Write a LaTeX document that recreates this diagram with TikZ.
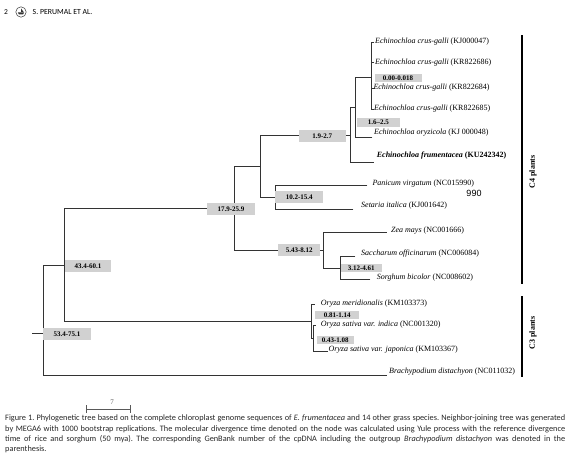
\documentclass[tikz,border=0pt]{standalone}
\usepackage{fontspec}
\setmainfont{Liberation Serif}
\newfontfamily\capfont{Carlito}
\newfontfamily\numfont{Liberation Sans}
\usetikzlibrary{arrows.meta,positioning}

\begin{document}
\begin{tikzpicture}[x=1pt,y=-1pt,line cap=rect,line join=miter,
  ink/.style={draw=black!80,line width=.9pt},
  group/.style={draw=black,line width=1.6pt},
  age/.style={fill=black!18,inner sep=0pt,font=\fontsize{7}{8}\selectfont\bfseries},
  leaf/.style={anchor=west,inner sep=0pt,font=\fontsize{8}{9}\selectfont},
  clade/.style={rotate=90,inner sep=0pt,font=\fontsize{8}{9}\selectfont\bfseries}]
\useasboundingbox (0,0) rectangle (570,462);

% Running head.
\node[font=\capfont\fontsize{7.5}{8}\selectfont] (page) at (6,12) {2};
\draw[black!80,line width=.5pt] (21,12) circle (5.2);
\fill[black!80] (17.8,12.4)--(24.2,12.4)--(23,14.4)--(19,14.4)--cycle;
\fill[black!80] (21,8.3)--(21,12)--(23.6,12)--cycle;
\node[font=\capfont\fontsize{7.8}{8}\selectfont,anchor=west,inner sep=0pt] (head) at (32.5,12) {S. PERUMAL ET AL.};

% Inner nodes and tips.
\coordinate (stub) at (32,333);
\coordinate (root) at (43,333);
\coordinate (n43) at (64.3,265.2);
\coordinate (n179) at (234.3,208.8);
\coordinate (n19) at (260.7,166.7);
\coordinate (n16) at (350.8,135.5);
\coordinate (n000) at (355,107.7);
\coordinate (ncg) at (371.7,77);
\coordinate (n102) at (275,197.5);
\coordinate (n543) at (323.3,250.5);
\coordinate (n312) at (340,268);
\coordinate (nory) at (311.7,321.7);
\coordinate (nsat) at (313.3,338);
\coordinate (toryz) at (372,137.3);
\coordinate (tfrum) at (373.3,162);
\coordinate (tpan) at (367,185);
\coordinate (tset) at (353,209.5);
\coordinate (tzea) at (386.7,232.7);
\coordinate (tsac) at (355,256.7);
\coordinate (tsor) at (370,279.3);
\coordinate (tmer) at (314.5,304);
\coordinate (tind) at (315.5,325);
\coordinate (tjap) at (327.7,351);
\coordinate (tbra) at (386.7,375.7);

% Branches.
\draw[ink] (stub)--(root);
\draw[ink] (root) |- (n43);
\draw[ink] (root) |- (tbra);
\draw[ink] (n43) |- (n179);
\draw[ink] (n43) |- (nory);
\draw[ink] (n179) |- (n19);
\draw[ink] (n179) |- (n543);
\draw[ink] (n19) |- (n16);
\draw[ink] (n19) |- (n102);
\draw[ink] (n16) |- (n000);
\draw[ink] (n16) |- (tfrum);
\draw[ink] (n000) |- (ncg);
\draw[ink] (n000) |- (toryz);
\draw[ink] (n102) |- (tpan);
\draw[ink] (n102) |- (tset);
\draw[ink] (n543) |- (tzea);
\draw[ink] (n543) |- (n312);
\draw[ink] (n312) |- (tsac);
\draw[ink] (n312) |- (tsor);
\draw[ink] (nory) |- (tmer);
\draw[ink] (nory) |- (nsat);
\draw[ink] (nsat) |- (tind);
\draw[ink] (nsat) |- (tjap);
\foreach \i/\y/\ty/\tx/\acc in {1/42.7/42/375/KJ000047,2/62.7/62.5/375/KR822686,
    3/88.3/88/373.3/KR822684,4/109.5/109/374/KR822685}{
  \coordinate (tcg\i) at (374,\y);
  \draw[ink] (ncg) |- (tcg\i);
  \node[leaf] (lcg\i) at (\tx,\ty) {\textit{Echinochloa crus-galli} (\acc)};
}

% Leaf labels.
\node[leaf] (loryz) at (374,132.7) {\textit{Echinochloa oryzicola} (KJ 000048)};
\node[leaf,font=\fontsize{8}{9}\selectfont\bfseries] (lfrum) at (376.7,155.5) {\textit{Echinochloa frumentacea} (KU242342)};
\node[leaf] (lpan) at (372.3,183.3) {\textit{Panicum virgatum} (NC015990)};
\node[leaf] (lset) at (361,205.7) {\textit{Setaria italica} (KJ001642)};
\node[leaf] (lzea) at (391,230.7) {\textit{Zea mays} (NC001666)};
\node[leaf] (lsac) at (361,253.3) {\textit{Saccharum officinarum} (NC006084)};
\node[leaf] (lsor) at (376.7,278) {\textit{Sorghum bicolor} (NC008602)};
\node[leaf] (lmer) at (320.7,303.3) {\textit{Oryza meridionalis} (KM103373)};
\node[leaf] (lind) at (320.7,325) {\textit{Oryza sativa var. indica} (NC001320)};
\node[leaf] (ljap) at (328.3,350) {\textit{Oryza sativa var. japonica} (KM103367)};
\node[leaf] (lbra) at (389,371.5) {\textit{Brachypodium distachyon} (NC011032)};
\node[font=\numfont\fontsize{9}{10}\selectfont] (num) at (474,193) {990};

% Divergence times (mya).
\node[age,minimum width=47,minimum height=8] (b000) at (398,78.3) {0.00-0.018};
\node[age,minimum width=43,minimum height=9] (b16) at (378.3,122.2) {1.6--2.5};
\node[age,minimum width=47,minimum height=12] (b19) at (322.3,135.8) {1.9-2.7};
\node[age,minimum width=48,minimum height=12.5] (b179) at (231,209.2) {17.9-25.9};
\node[age,minimum width=48,minimum height=12] (b102) at (299.2,197.2) {10.2-15.4};
\node[age,minimum width=42,minimum height=12] (b543) at (299.2,250.2) {5.43-8.12};
\node[age,minimum width=41,minimum height=8.5] (b312) at (361.3,268.2) {3.12-4.61};
\node[age,minimum width=46,minimum height=12] (b43) at (88,266) {43.4-60.1};
\node[age,minimum width=48,minimum height=12] (b53) at (67,334) {53.4-75.1};
\node[age,minimum width=44,minimum height=8.6] (b081) at (337.2,315) {0.81-1.14};
\node[age,minimum width=37,minimum height=8.3] (b043) at (335.3,340.2) {0.43-1.08};

% C4 / C3 brackets.
\coordinate (c4top) at (522,36);
\coordinate (c4bot) at (522,283);
\coordinate (c3top) at (522,297);
\coordinate (c3bot) at (522,376);
\draw[group] (c4top)--(c4bot);
\draw[group] (c3top)--(c3bot);
\node[clade] (c4) at (533,172) {C4 plants};
\node[clade] (c3) at (533,333) {C3 plants};

% Scale bar.
\coordinate (sl) at (86,409);
\coordinate (sr) at (131,409);
\draw[black!65,line width=.9pt,{Bar[width=8pt]}-{Bar[width=8pt]}] (sl)--(sr);
\node[font=\fontsize{7}{8}\selectfont,text=black!65] (slabel) at (112,402) {7};

% Caption.
\node[anchor=north west,inner sep=0pt,text width=560pt,align=justify,text=black!85,
  font=\capfont\fontsize{8.3}{10.2}\selectfont\frenchspacing] (cap) at (5,415)
  {Figure 1. Phylogenetic tree based on the complete chloroplast genome sequences of \textit{E. frumentacea} and 14 other grass species. Neighbor-joining tree was generated\linebreak
  by MEGA6 with 1000 bootstrap replications. The molecular divergence time denoted on the node was calculated using Yule process with the reference divergence\linebreak
  time of rice and sorghum (50 mya). The corresponding GenBank number of the cpDNA including the outgroup \textit{Brachypodium distachyon} was denoted in the\linebreak
  parenthesis.};
\end{tikzpicture}
\end{document}
